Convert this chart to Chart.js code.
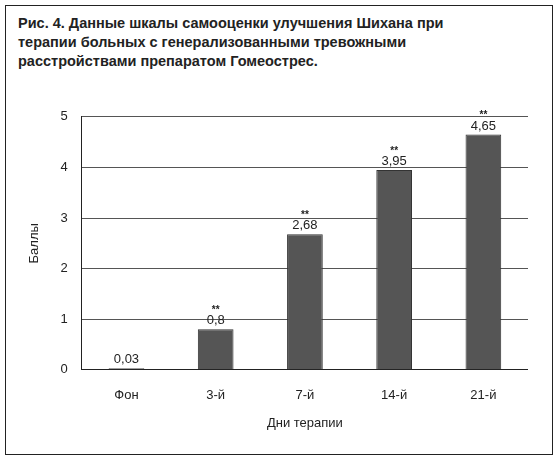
<!DOCTYPE html>
<html><head><meta charset="utf-8">
<script src="https://cdn.jsdelivr.net/npm/chart.js@4"></script>
<style>
body{margin:0;background:#fff;font-family:"Liberation Sans",Arial,sans-serif;}
#frame{position:absolute;left:5px;top:5px;width:548px;height:450px;border:1.5px solid #222;box-sizing:border-box;}
#title{position:absolute;left:18px;top:14px;width:530px;font-weight:bold;font-size:14.5px;line-height:19px;color:#222;white-space:nowrap;}
#wrap{position:absolute;left:23px;top:95px;width:505px;height:340px;}
</style></head><body>
<div id="frame"></div>
<div id="title">Рис. 4. Данные шкалы самооценки улучшения Шихана при<br>терапии больных с генерализованными тревожными<br>расстройствами препаратом Гомеострес.</div>
<div id="wrap"><canvas id="c"></canvas></div>
<script>
const categories=["Фон","3-й","7-й","14-й","21-й"];
const values=[0.03,0.8,2.68,3.95,4.65];
const labels=["0,03","0,8","2,68","3,95","4,65"];
const stars=["","**","**","**","**"];
const lbl={id:'lbl',afterDatasetsDraw(ch){const c=ch.ctx;const m=ch.getDatasetMeta(0);c.save();c.fillStyle='#222';c.textAlign='center';
m.data.forEach((b,i)=>{c.font='13px "Liberation Sans",Arial';c.textBaseline='bottom';c.fillText(labels[i],b.x,b.y-2);
if(stars[i]){c.font='bold 10px "Liberation Sans",Arial';c.fillText(stars[i],b.x,b.y-14);}});c.restore();}};
new Chart(document.getElementById('c'),{type:'bar',
data:{labels:categories,datasets:[{data:values,backgroundColor:'#555',borderColor:'#333',borderWidth:1,barPercentage:0.4,categoryPercentage:1}]},
options:{responsive:true,maintainAspectRatio:false,animation:false,layout:{padding:{top:10,right:0}},
plugins:{legend:{display:false},tooltip:{enabled:false}},
scales:{y:{min:0,max:5,ticks:{stepSize:1,color:'#222',font:{size:13},padding:14},grid:{color:'#555',drawTicks:false},border:{color:'#222'},
title:{display:true,text:'Баллы',color:'#222',font:{size:13}}},
x:{ticks:{color:'#222',font:{size:13},padding:10},grid:{display:false},border:{color:'#222'},
title:{display:true,text:'Дни терапии',color:'#222',font:{size:13},padding:{top:2}}}}},
plugins:[lbl]});
</script></body></html>
